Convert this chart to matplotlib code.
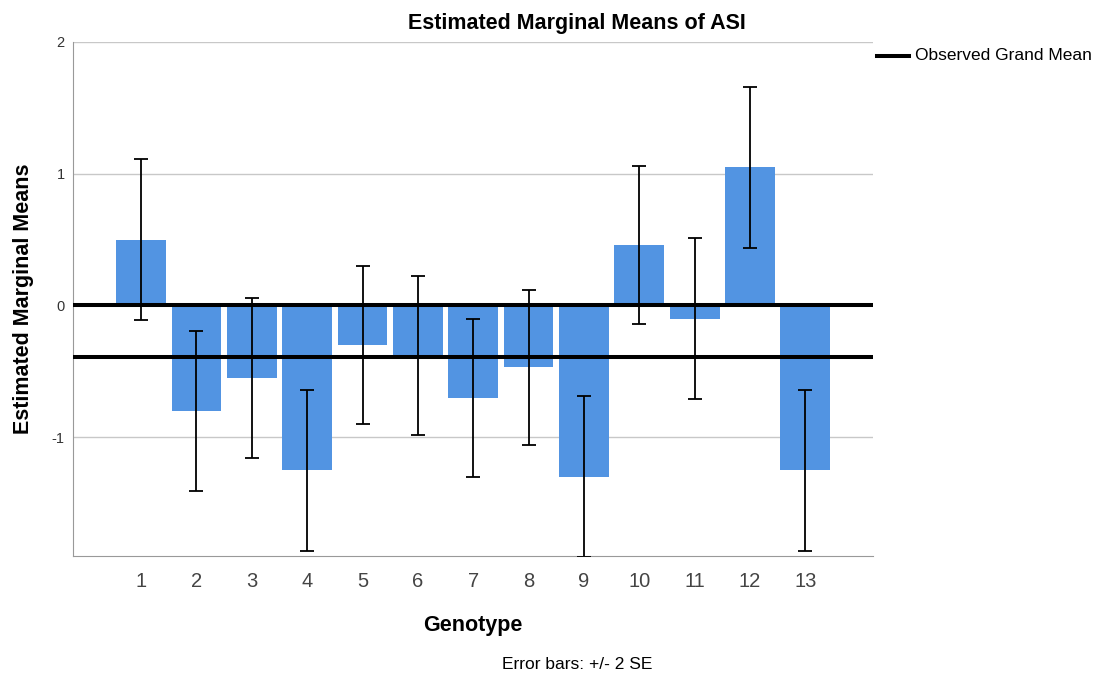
# Estimated marginal means of ASI by genotype, with +/- 2 SE error bars.

import matplotlib.pyplot as plt

genotypes = ['1', '2', '3', '4', '5', '6', '7', '8', '9', '10', '11', '12', '13']
means = [0.50, -0.80, -0.55, -1.25, -0.30, -0.38, -0.70, -0.47, -1.30, 0.46, -0.10, 1.05, -1.25]
err_2se = [0.61, 0.61, 0.61, 0.61, 0.60, 0.60, 0.60, 0.59, 0.61, 0.60, 0.61, 0.61, 0.61]
grand_mean = -0.39
y_ticks = [2, 1, 0, -1]

plt.rcParams['font.family'] = ['Liberation Sans', 'DejaVu Sans']

fig = plt.figure(figsize=(11.01, 6.77), dpi=100)
ax = fig.add_axes([0.0663, 0.179, 0.727, 0.759])

x = list(range(1, len(genotypes) + 1))
ax.bar(x, means, width=0.9, color='#5294e2', zorder=2)
ax.errorbar(x, means, yerr=err_2se, fmt='none', ecolor='black', elinewidth=1.3,
            capsize=5, capthick=1.3, zorder=4)

# reference line at zero and the observed grand mean
ax.axhline(0, color='black', lw=2.9, zorder=3)
ax.axhline(grand_mean, color='black', lw=2.9, zorder=3)

ax.set_xlim(1 - 1.23, len(genotypes) + 1.23)
ax.set_ylim(-1.90, 2)
ax.set_xticks(x)
ax.set_xticklabels(genotypes, fontsize=14.5, color='#444444')
ax.set_yticks(y_ticks)
ax.set_yticklabels([str(t) for t in y_ticks], fontsize=10.5, color='#333333')
ax.tick_params(axis='x', length=0, pad=12)
ax.tick_params(axis='y', length=0, pad=6)
ax.yaxis.grid(True, color='#c8c8c8', lw=1)
ax.set_axisbelow(True)

for side in ['top', 'right']:
    ax.spines[side].set_visible(False)
for side in ['left', 'bottom']:
    ax.spines[side].set_color('#999999')

ax.set_xlabel('Genotype', fontsize=15.5, fontweight='bold', labelpad=17)
ax.set_ylabel('Estimated Marginal Means', fontsize=15.5, fontweight='bold', labelpad=13)

fig.text(0.524, 0.965, 'Estimated Marginal Means of ASI', ha='center', va='center',
         fontsize=15.5, fontweight='bold')
fig.text(0.524, 0.019, 'Error bars: +/- 2 SE', ha='center', va='center', fontsize=12.5)

# legend entry drawn as in the original output
fig.add_artist(plt.Line2D([0.797, 0.826], [0.918, 0.918], color='black', lw=2.9))
fig.text(0.831, 0.918, 'Observed Grand Mean', ha='left', va='center', fontsize=12.5)

fig.savefig('out.png', dpi=100)
